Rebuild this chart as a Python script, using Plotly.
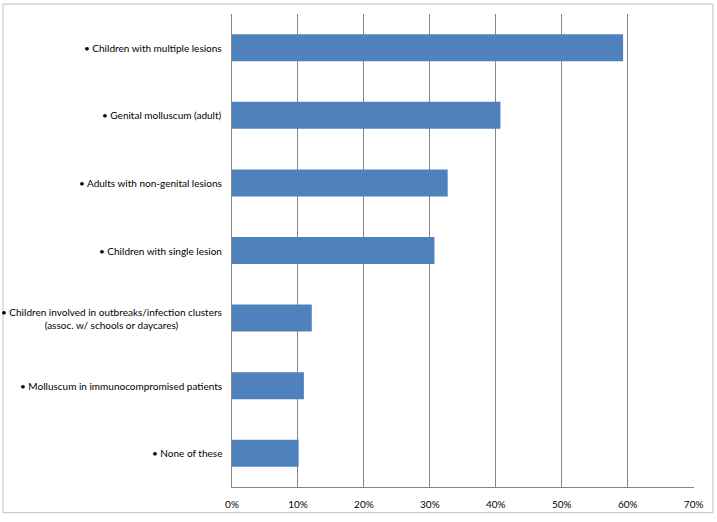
import plotly.graph_objects as go

categories = [
    "• Children with multiple lesions",
    "• Genital molluscum (adult)",
    "• Adults with non-genital lesions",
    "• Children with single lesion",
    "• Children involved in outbreaks/infection clusters<br>(assoc. w/ schools or daycares)",
    "• Molluscum in immunocompromised patients",
    "• None of these",
]
values = [0.593, 0.407, 0.327, 0.307, 0.121, 0.109, 0.101]
tick_vals = [0, 0.1, 0.2, 0.3, 0.4, 0.5, 0.6, 0.7]
tick_text = ["0%", "10%", "20%", "30%", "40%", "50%", "60%", "70%"]

FONT = "Lato"
fig = go.Figure()
fig.add_trace(go.Bar(
    x=values, y=categories, orientation="h",
    marker=dict(color="#4F81BD", line=dict(width=0)),
    width=0.4,
))

for c in categories:
    fig.add_annotation(
        x=0, xref="paper", y=c, yref="y", xanchor="right", xshift=-8,
        text=c, showarrow=False, align="center",
        font=dict(family=FONT, size=10, color="#000000"),
    )

fig.update_layout(
    width=717, height=522,
    margin=dict(l=232, r=23, t=14, b=30),
    paper_bgcolor="white", plot_bgcolor="white",
    showlegend=False,
    xaxis=dict(
        range=[0, 0.7005], tickvals=tick_vals, ticktext=tick_text,
        showgrid=True, gridcolor="#868686", gridwidth=1,
        showline=True, linecolor="#868686", linewidth=1,
        zeroline=False, ticks="outside", ticklen=8, tickcolor="rgba(0,0,0,0)",
        tickfont=dict(family=FONT, size=10, color="#000000"),
        fixedrange=True,
    ),
    yaxis=dict(
        autorange="reversed", showticklabels=False, showgrid=False,
        showline=True, linecolor="#868686", linewidth=1, ticks="",
        fixedrange=True,
    ),
    shapes=[dict(
        type="rect", xref="paper", yref="paper",
        x0=-0.4957, x1=1.041, y0=-0.0544, y1=1.021,
        line=dict(color="#BFBFBF", width=1), layer="below",
    )],
)

fig.write_html(
    "out.html",
    config={"displayModeBar": False},
    post_script="document.body.style.margin='0';document.body.style.overflow='hidden';",
)
